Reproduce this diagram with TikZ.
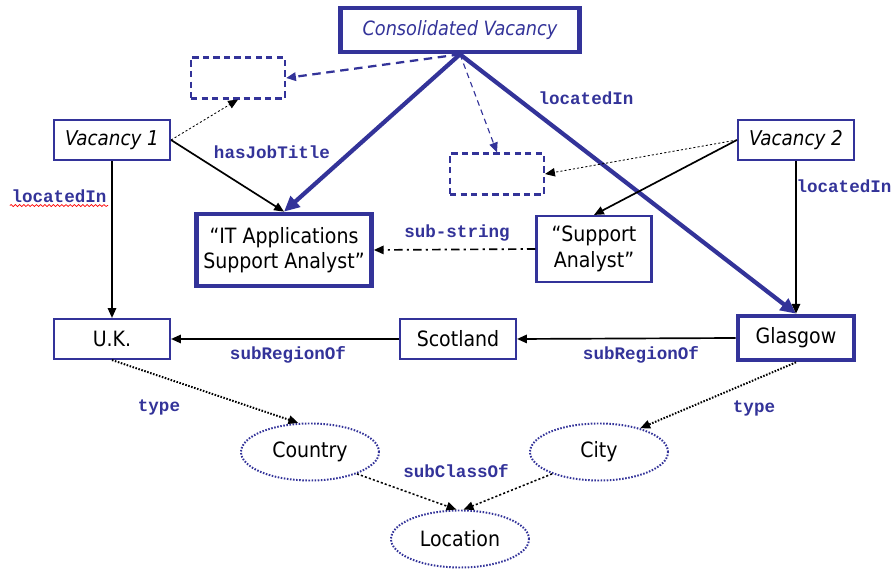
\documentclass[tikz,border=0pt]{standalone}
\usepackage{fontspec}
\setmainfont{DejaVu Sans Condensed}
\newfontfamily\lblfont{Liberation Mono}
\usetikzlibrary{arrows.meta}
\usetikzlibrary{shapes.geometric}
\usetikzlibrary{decorations.pathmorphing}
\definecolor{ontoblue}{RGB}{51,51,153}

\begin{document}
\begin{tikzpicture}[x=0.025cm, y=-0.025cm,
    box/.style={draw=ontoblue, line width=1.5pt, minimum width=2.9cm, minimum height=1cm,
      inner sep=1pt, align=center, font=\fontsize{15}{18}\selectfont},
    bigbox/.style={box, line width=3.3pt},
    blankbox/.style={draw=ontoblue, line width=1.5pt, dash pattern=on 4.5pt off 3pt,
      minimum width=2.35cm, minimum height=1.025cm},
    cls/.style={ellipse, draw=ontoblue, line width=1.4pt, dash pattern=on 1.1pt off 1.1pt,
      minimum width=3.45cm, minimum height=1.425cm, inner sep=0pt, font=\fontsize{15}{18}\selectfont},
    lbl/.style={text=ontoblue, inner sep=1pt, font=\lblfont\bfseries\fontsize{12.5}{14}\selectfont},
    tip/.style={-{Triangle[length=7pt,width=6pt]}},
    rel/.style={tip, black, line width=1.2pt},
    heavy/.style={tip, ontoblue, line width=3pt, -{Triangle[length=11pt,width=10pt]}},
    typeof/.style={tip, black, line width=1.4pt, dash pattern=on 1.1pt off 1.1pt},
    link/.style={tip, black, line width=0.6pt, dash pattern=on 1.5pt off 1.5pt}]

  \useasboundingbox (0,0) rectangle (896,569);

  % nodes
  \node[bigbox, minimum width=5.98cm, minimum height=1.1cm, text=ontoblue,
    font=\itshape\fontsize{14}{17}\selectfont] (cv) at (460,30) {Consolidated Vacancy};
  \node[blankbox] (bl) at (238,78) {};
  \node[blankbox] (br) at (497,174) {};
  \node[box, font=\itshape\fontsize{14.5}{17}\selectfont] (v1) at (112,140) {Vacancy 1};
  \node[box, font=\itshape\fontsize{14.5}{17}\selectfont] (v2) at (796,140) {Vacancy 2};
  \node[bigbox, minimum width=4.375cm, minimum height=1.8cm] (it) at (284,250)
    {“IT Applications\\Support Analyst”};
  \node[box, minimum width=2.875cm, minimum height=1.65cm] (sa) at (594,249)
    {“Support\\Analyst”};
  \node[box] (uk) at (112,339) {U.K.};
  \node[box] (sc) at (458,339) {Scotland};
  \node[bigbox, minimum height=1.1cm] (gl) at (796,338) {Glasgow};
  \node[cls] (co) at (310,452) {Country};
  \node[cls] (ci) at (599,452) {City};
  \node[cls] (lo) at (460,539) {Location};

  % connectors
  \draw[tip, ontoblue, line width=1.6pt, dash pattern=on 6pt off 4pt] (cv.south) -- (bl.east);
  \draw[tip, ontoblue, line width=0.8pt, dash pattern=on 4pt off 3pt] (cv.south) -- (br.north);
  \draw[heavy] (cv.south) -- (it.north);
  \draw[heavy] (cv.south) -- (gl.north);
  \draw[link] (v1.east) -- (bl.south);
  \draw[link] (v2.west) -- (br.east);
  \draw[rel] (v1.east) -- (it.north);
  \draw[rel] (v2.west) -- (sa.north);
  \draw[rel] (v1.south) -- (uk.north);
  \draw[rel] (v2.south) -- (gl.north);
  \draw[tip, black, line width=1.2pt, dash pattern=on 6pt off 3pt on 1.5pt off 3pt] (sa.west) -- (it.east);
  \draw[rel] (sc.west) -- (uk.east);
  \draw[rel] (gl.west) -- (sc.east);
  \draw[typeof] (uk.south) -- (co.112);
  \draw[typeof] (gl.south) -- (ci.30);
  \draw[link, line width=1.1pt] (co.-25) -- (lo.97);
  \draw[link, line width=1.1pt] (ci.205) -- (lo.83);

  % labels
  \node[lbl] (l1) at (586,98) {locatedIn};
  \node[lbl] (l2) at (272,152) {hasJobTitle};
  \node[lbl] (l3) at (59,196) {locatedIn};
  \draw[red, line width=0.5pt, decorate, decoration={snake, amplitude=0.7pt, segment length=3pt}]
    ([yshift=-1pt]l3.south west) -- ([yshift=-1pt]l3.south east);
  \node[lbl] (l4) at (844,186) {locatedIn};
  \node[lbl] (l5) at (457,233) {sub-string};
  \node[lbl] (l6) at (288,355) {subRegionOf};
  \node[lbl] (l7) at (641,355) {subRegionOf};
  \node[lbl] (l8) at (159,407) {type};
  \node[lbl] (l9) at (754,408) {type};
  \node[lbl] (l10) at (456,471) {subClassOf};

\end{tikzpicture}
\end{document}
